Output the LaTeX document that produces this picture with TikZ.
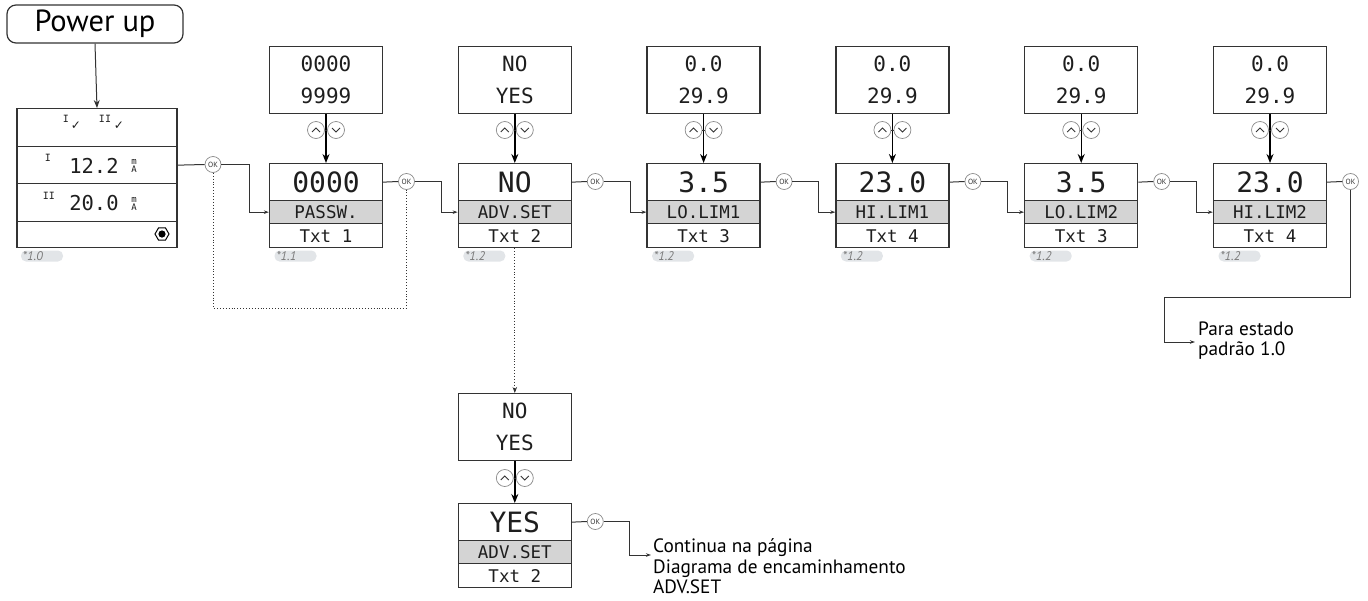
\documentclass[tikz,border=0pt]{standalone}
\usepackage{fontspec}
\setmainfont{PT Sans}
\newfontfamily\lcd{DejaVu Sans Mono}
\newfontfamily\symf{DejaVu Sans}
\usetikzlibrary{arrows.meta,calc,shapes.geometric}
\definecolor{linec}{HTML}{333333}
\definecolor{lcdc}{HTML}{1E1E1E}
\definecolor{grayrow}{HTML}{D4D4D4}
\definecolor{pillc}{HTML}{E2E5E8}
\definecolor{okc}{HTML}{8A8A8A}
\definecolor{notec}{HTML}{7A7A7A}
\tikzset{
  frame/.style={draw=linec, line width=1.3pt, minimum width=113pt, inner sep=0pt, anchor=north, text=lcdc},
  valrow/.style={frame, minimum height=37pt, font=\lcd\fontsize{28}{28}\selectfont},
  lblrow/.style={frame, fill=grayrow, minimum height=23pt, font=\lcd\fontsize{17.5}{17.5}\selectfont},
  txtrow/.style={frame, minimum height=24pt, font=\lcd\fontsize{17.5}{17.5}\selectfont},
  rangebox/.style={frame, minimum height=67pt, align=center, font=\lcd\fontsize{21}{32}\selectfont},
  srow/.style={frame, minimum width=160pt},
  okbtn/.style={circle, draw=okc, line width=0.7pt, fill=white, minimum size=16pt, inner sep=0pt, font=\fontsize{7.5}{7.5}\selectfont, text=linec},
  keybtn/.style={circle, draw=okc, line width=0.7pt, fill=white, minimum size=17pt, inner sep=0pt},
  chev/.style={draw=linec, line width=0.9pt},
  conn/.style={draw=linec, line width=1pt},
  arr/.style={conn, -{Stealth[length=5pt,width=3.5pt]}},
  arrm/.style={conn, -{Stealth[length=8pt,width=6pt]}},
  bigarr/.style={draw=black, line width=1.4pt, -{Stealth[length=9pt,width=7pt]}},
  dots/.style={draw=linec, line width=0.9pt, dotted},
  pill/.style={fill=pillc, rounded corners=5pt, minimum width=42pt, minimum height=11pt, inner sep=0pt, text width=38pt, align=left, font=\itshape\fontsize{12.5}{12.5}\selectfont, text=notec},
  powerbox/.style={draw=linec, line width=1.2pt, rounded corners=9pt, minimum width=176pt, minimum height=38pt, inner sep=0pt, font=\fontsize{30.5}{30.5}\selectfont},
  sidetext/.style={anchor=west, align=left, inner sep=0pt, font=\fontsize{19.3}{20.5}\selectfont, text=black},
  tinyl/.style={inner sep=0pt, font=\lcd\fontsize{10}{10}\selectfont, text=lcdc},
  midl/.style={inner sep=0pt, font=\lcd\fontsize{20.5}{20.5}\selectfont, text=lcdc},
  unitl/.style={inner sep=0pt, align=center, font=\lcd\fontsize{9}{8}\selectfont, text=lcdc},
  checkl/.style={inner sep=0pt, font=\symf\fontsize{12}{12}\selectfont, text=lcdc},
}
\begin{document}
\begin{tikzpicture}[x=1pt,y=-1pt]
\useasboundingbox (0,0) rectangle (1368,600);

% Power up
\node[powerbox] (pw) at (95,24) {Power up};

% left display
\node[srow, minimum height=38pt] (s1) at (97,108) {};
\node[srow, minimum height=37pt] (s2) at (97,146) {};
\node[srow, minimum height=38pt] (s3) at (97,183) {};
\node[srow, minimum height=26pt] (s4) at (97,221) {};
\node[tinyl] (sa) at (66,119) {I};
\node[checkl] (sb) at (76,126) {✓};
\node[tinyl] (sc) at (105,119) {II};
\node[checkl] (sd) at (119,126) {✓};
\node[tinyl] (se) at (48,158) {I};
\node[midl] (sf) at (94,166) {12.2};
\node[unitl] (sg) at (134,165.5) {m\\A};
\node[tinyl] (sh) at (49,196) {II};
\node[midl] (si) at (94,203) {20.0};
\node[unitl] (sj) at (134,203.5) {m\\A};
\node[regular polygon, regular polygon sides=6, draw=black, line width=1pt, minimum size=14pt, inner sep=0pt] (hx) at (162,234) {};
\fill[black] (hx.center) circle (3.6pt);
\node[pill] (n0) at (42,256) {*1.0};

\draw[arrm] (pw.south) -- (s1.north);

% main columns
\foreach \i/\cx/\ra/\rb/\val/\lbl/\txt/\nt in {
  1/326/0000/9999/0000/PASSW./Txt 1/*1.1,
  2/514.8/NO/YES/NO/ADV.SET/Txt 2/*1.2,
  3/703.6/0.0/29.9/3.5/LO.LIM1/Txt 3/*1.2,
  4/892.4/0.0/29.9/23.0/HI.LIM1/Txt 4/*1.2,
  5/1081.2/0.0/29.9/3.5/LO.LIM2/Txt 3/*1.2,
  6/1270/0.0/29.9/23.0/HI.LIM2/Txt 4/*1.2}{
  \node[rangebox] (r\i) at (\cx,46) {\ra\\\rb};
  \node[valrow] (v\i) at (\cx,163) {\val};
  \node[lblrow] (l\i) at (\cx,200) {\lbl};
  \node[txtrow] (t\i) at (\cx,223) {\txt};
  \draw[bigarr] (r\i.south) -- (v\i.north);
  \node[keybtn] (u\i) at (\cx-10,130) {};
  \node[keybtn] (d\i) at (\cx+10,130) {};
  \draw[conn] (u\i.east) -- (d\i.west);
  \draw[chev] ($(u\i)+(-4,2)$) -- ($(u\i)+(0,-2)$) -- ($(u\i)+(4,2)$);
  \draw[chev] ($(d\i)+(-4,-2)$) -- ($(d\i)+(0,2)$) -- ($(d\i)+(4,-2)$);
  \node[okbtn] (ok\i) at (\cx+80.5,181.5) {OK};
  \draw[conn] (v\i.east) -- (ok\i.west);
  \coordinate (k\i) at (\cx+115.3,181.5);
  \node[pill] (n\i) at (\cx-30.5,256) {\nt};
}

% entry from default display
\node[okbtn] (ok0) at (213,164.5) {OK};
\draw[conn] (s2.east) -- (ok0.west);
\coordinate (k0) at (249,164.5);
\draw[arr] (ok0.east) -- (k0) |- (l1.west);

% chain of OK connectors
\foreach \i/\j in {1/2,2/3,3/4,4/5,5/6}{
  \draw[arr] (ok\i.east) -- (k\i) |- (l\j.west);
}

% dotted return loop
\coordinate (dl) at (213,308);
\draw[dots] (ok0.south) -- (dl) -| (ok1.south);

% last: back to default
\coordinate (p1) at (1164,297);
\coordinate (pe) at (1195,342);
\draw[arr] (ok6.south) |- (p1) |- (pe);
\node[sidetext] (para) at (1198,340.5) {Para estado\\padrão 1.0};

% lower branch
\node[rangebox] (r7) at (514.8,393) {NO\\YES};
\draw[dots, -{Stealth[length=6pt,width=4.5pt]}] (t2.south) -- (r7.north);
\node[valrow] (v7) at (514.8,503) {YES};
\node[lblrow] (l7) at (514.8,540) {ADV.SET};
\node[txtrow] (t7) at (514.8,563) {Txt 2};
\draw[bigarr] (r7.south) -- (v7.north);
\node[keybtn] (u7) at (504.8,478) {};
\node[keybtn] (d7) at (524.8,478) {};
\draw[conn] (u7.east) -- (d7.west);
\draw[chev] ($(u7)+(-4,2)$) -- ($(u7)+(0,-2)$) -- ($(u7)+(4,2)$);
\draw[chev] ($(d7)+(-4,-2)$) -- ($(d7)+(0,2)$) -- ($(d7)+(4,-2)$);
\node[okbtn] (ok7) at (595.3,521.5) {OK};
\draw[conn] (v7.east) -- (ok7.west);
\coordinate (k7) at (629,521.5);
\coordinate (ce) at (651,555);
\draw[arr] (ok7.east) -- (k7) |- (ce);
\node[sidetext] (cont) at (653,566.5) {Continua na página\\Diagrama de encaminhamento\\ADV.SET};
\end{tikzpicture}
\end{document}
